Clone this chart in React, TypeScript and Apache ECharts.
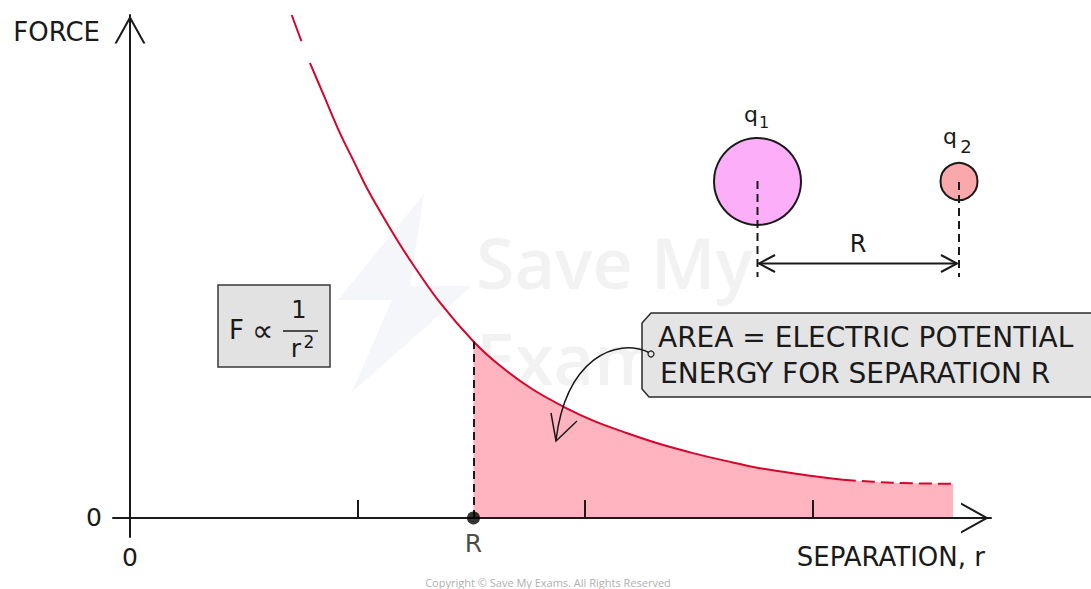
import React, { useEffect, useRef } from 'react';
import * as echarts from 'echarts';

// Curve: separation r (tick units) and force F (arbitrary units)
const R_VALUES = [0.711, 0.752, 0.791, 0.853, 0.923, 0.985, 1.046, 1.134, 1.222, 1.363, 1.51, 1.626, 1.766, 1.92, 2.044, 2.183, 2.33, 2.475, 2.624, 2.769, 2.945, 3.134, 3.354, 3.618];
const F_VALUES = [10.0, 9.5, 9.05, 8.39, 7.65, 7.08, 6.52, 5.83, 5.19, 4.28, 3.51, 3.03, 2.57, 2.18, 1.92, 1.69, 1.47, 1.29, 1.13, 0.99, 0.87, 0.76, 0.7, 0.68];
const TOP_DASH_END = 2; // curve is dashed up to this index
const TAIL_DASH_START = 21; // curve is dashed from this index
const R_INDEX = 10; // index of the separation R
const R_SEPARATION = 1.51;
const X_TICKS = [1, 2, 3];
const X_LABELS = [0];
const Y_LABELS = [0];

const X_NAME = 'SEPARATION, r';
const Y_NAME = 'FORCE';
const CALLOUT_LINES = ['AREA = ELECTRIC POTENTIAL', 'ENERGY FOR SEPARATION R'];

const FONT = "'DejaVu Sans', sans-serif";
const INK = '#1a1a1a';
const RED = '#d4062c';
const FILL = '#ffb4bf';
const CHEVRON = 'path://M15 0 L30 27 L27.8 27 L15 4 L2.2 27 L0 27 Z';

function pts(from: number, to: number) {
  const out: number[][] = [];
  for (let i = from; i <= to; i++) out.push([R_VALUES[i], F_VALUES[i]]);
  return out;
}

export default function App() {
  const ref = useRef<HTMLDivElement>(null);
  useEffect(() => {
    document.body.style.margin = '0';
    const chart = echarts.init(ref.current!, null, { renderer: 'svg' });
    const last = R_VALUES.length - 1;
    const txt = (text: string, x: number, y: number, fontSize: number, extra: any = {}) => ({
      type: 'text',
      z: 30,
      style: { text, x, y, fontSize, fontFamily: FONT, fill: INK, align: 'left', verticalAlign: 'middle', ...extra },
    });
    const option: any = {
      animation: false,
      backgroundColor: '#ffffff',
      grid: { left: 113, right: 100, top: 15, bottom: 52 },
      xAxis: {
        type: 'value',
        min: -0.0747,
        max: 3.785,
        z: 10,
        name: X_NAME,
        nameLocation: 'end',
        nameGap: 0,
        nameTextStyle: { fontFamily: FONT, fontSize: 26, color: INK, align: 'right', verticalAlign: 'top', padding: [26, 6, 0, 0] },
        axisLine: {
          onZero: true,
          symbol: ['none', CHEVRON],
          symbolSize: [31, 32],
          symbolOffset: [0, -16],
          lineStyle: { color: INK, width: 2 },
        },
        axisTick: { show: true, inside: true, length: 18, customValues: X_TICKS, lineStyle: { color: INK, width: 2 } },
        axisLabel: { show: true, customValues: X_LABELS, margin: 8, fontSize: 25, fontFamily: FONT, color: INK, formatter: (v: number) => String(v) },
        splitLine: { show: false },
      },
      yAxis: {
        type: 'value',
        min: -0.378,
        max: 10,
        z: 10,
        name: Y_NAME,
        nameLocation: 'end',
        nameGap: -17,
        nameTextStyle: { fontFamily: FONT, fontSize: 26, color: INK, align: 'right', verticalAlign: 'middle', padding: [0, 30, 0, 0] },
        axisLine: {
          onZero: true,
          symbol: ['none', CHEVRON],
          symbolSize: [31, 29],
          symbolOffset: [0, -14.5],
          lineStyle: { color: INK, width: 2 },
        },
        axisTick: { show: false },
        axisLabel: { show: true, customValues: Y_LABELS, margin: 11, fontSize: 25, fontFamily: FONT, color: INK, formatter: (v: number) => String(v) },
        splitLine: { show: false },
      },
      series: [
        {
          name: 'area',
          type: 'line',
          data: pts(R_INDEX, last),
          smooth: 0.35,
          symbol: 'none',
          z: 2,
          lineStyle: { width: 0 },
          areaStyle: { color: FILL, opacity: 1 },
          markLine: {
            silent: true,
            symbol: ['none', 'none'],
            label: { show: false },
            lineStyle: { type: [8, 5], color: INK, width: 2 },
            data: [[{ coord: [R_SEPARATION, 0] }, { coord: [R_SEPARATION, F_VALUES[R_INDEX]] }]],
          },
        },
        {
          name: 'curveTop',
          type: 'line',
          data: pts(0, TOP_DASH_END),
          smooth: 0.35,
          symbol: 'none',
          z: 4,
          lineStyle: { color: RED, width: 2, type: [28, 40] },
        },
        {
          name: 'curve',
          type: 'line',
          data: pts(TOP_DASH_END, TAIL_DASH_START),
          smooth: 0.35,
          symbol: 'none',
          z: 4,
          lineStyle: { color: RED, width: 2 },
        },
        {
          name: 'curveTail',
          type: 'line',
          data: pts(TAIL_DASH_START, last),
          smooth: 0.35,
          symbol: 'none',
          z: 4,
          lineStyle: { color: RED, width: 2, type: [13, 6] },
        },
        {
          name: 'R',
          type: 'scatter',
          data: [[R_SEPARATION, 0]],
          symbol: 'circle',
          symbolSize: 13,
          z: 20,
          itemStyle: { color: '#000' },
          label: { show: true, position: 'bottom', distance: 7, formatter: 'R', fontSize: 25, fontFamily: FONT, color: INK },
        },
      ],
      graphic: [
        // faint watermark
        {
          type: 'polygon', z: 0, silent: true,
          shape: { points: [[424, 194], [338, 300], [392, 300], [352, 392], [472, 286], [410, 286]] },
          style: { fill: '#f5f6fa' },
        },
        { type: 'text', z: 1, silent: true, style: { text: 'Save My\nExams', x: 476, y: 310, fontSize: 70, lineHeight: 96, fontWeight: 600, fontFamily: "'Open Sans', sans-serif", fill: '#f2f2f2', verticalAlign: 'middle' } },
        // formula box
        { type: 'rect', z: 25, shape: { x: 218, y: 285, width: 112, height: 82 }, style: { fill: '#e2e2e2', stroke: '#3a3a3a', lineWidth: 1.5 } },
        txt('F', 229, 330, 26),
        txt('∝', 252, 330, 30),
        txt('1', 299, 310, 24, { align: 'center' }),
        { type: 'line', z: 30, shape: { x1: 283, y1: 331, x2: 318, y2: 331 }, style: { stroke: INK, lineWidth: 1.5 } },
        txt('r', 296, 348, 25, { align: 'center' }),
        txt('2', 309, 342, 17, { align: 'center' }),
        // charges
        { type: 'circle', z: 25, shape: { cx: 757.5, cy: 181.5, r: 43.5 }, style: { fill: '#fcaef8', stroke: INK, lineWidth: 2 } },
        { type: 'circle', z: 25, shape: { cx: 959, cy: 181.5, r: 18.5 }, style: { fill: '#f9a8ab', stroke: INK, lineWidth: 2 } },
        { type: 'line', z: 30, shape: { x1: 757.5, y1: 181, x2: 757.5, y2: 277 }, style: { stroke: INK, lineWidth: 2, lineDash: [8, 5] } },
        { type: 'line', z: 30, shape: { x1: 959, y1: 182, x2: 959, y2: 277 }, style: { stroke: INK, lineWidth: 2, lineDash: [8, 5] } },
        { type: 'line', z: 30, shape: { x1: 759, y1: 263.5, x2: 957, y2: 263.5 }, style: { stroke: INK, lineWidth: 2 } },
        { type: 'polyline', z: 30, shape: { points: [[775, 255], [759, 263.5], [775, 272]] }, style: { stroke: INK, lineWidth: 2, fill: 'none' } },
        { type: 'polyline', z: 30, shape: { points: [[941, 255], [957, 263.5], [941, 272]] }, style: { stroke: INK, lineWidth: 2, fill: 'none' } },
        txt('R', 858, 244, 24, { align: 'center' }),
        txt('q', 751, 114, 22, { align: 'center' }),
        txt('1', 764, 122, 16, { align: 'center' }),
        txt('q', 950, 136, 22, { align: 'center' }),
        txt('2', 966, 146, 18, { align: 'center' }),
        // callout
        {
          type: 'polygon', z: 25,
          shape: { points: [[651, 313], [1096, 313], [1096, 397], [649, 397], [642, 389], [642, 323]] },
          style: { fill: '#e4e4e4', stroke: '#2a2a2a', lineWidth: 1.5 },
        },
        txt(CALLOUT_LINES[0], 658, 337, 28),
        txt(CALLOUT_LINES[1], 660, 373, 28),
        {
          type: 'bezierCurve', z: 30,
          shape: { x1: 650, y1: 353, cpx1: 615, cpy1: 336, cpx2: 566, cpy2: 360, x2: 556, y2: 440 },
          style: { stroke: INK, lineWidth: 1.5, fill: 'none' },
        },
        { type: 'polyline', z: 30, shape: { points: [[551, 413], [556, 441], [577, 421]] }, style: { stroke: INK, lineWidth: 1.5, fill: 'none' } },
        { type: 'circle', z: 31, shape: { cx: 651, cy: 354, r: 3 }, style: { fill: '#e4e4e4', stroke: INK, lineWidth: 1.2 } },
        // copyright
        { type: 'text', z: 30, style: { text: 'Copyright © Save My Exams. All Rights Reserved', x: 548, y: 582, fontSize: 11, fontFamily: "'Open Sans', sans-serif", fill: '#b0b0b0', align: 'center', verticalAlign: 'middle' } },
      ],
    };
    chart.setOption(option);
    return () => chart.dispose();
  }, []);
  return <div ref={ref} style={{ width: 1091, height: 589, background: '#fff' }} />;
}
